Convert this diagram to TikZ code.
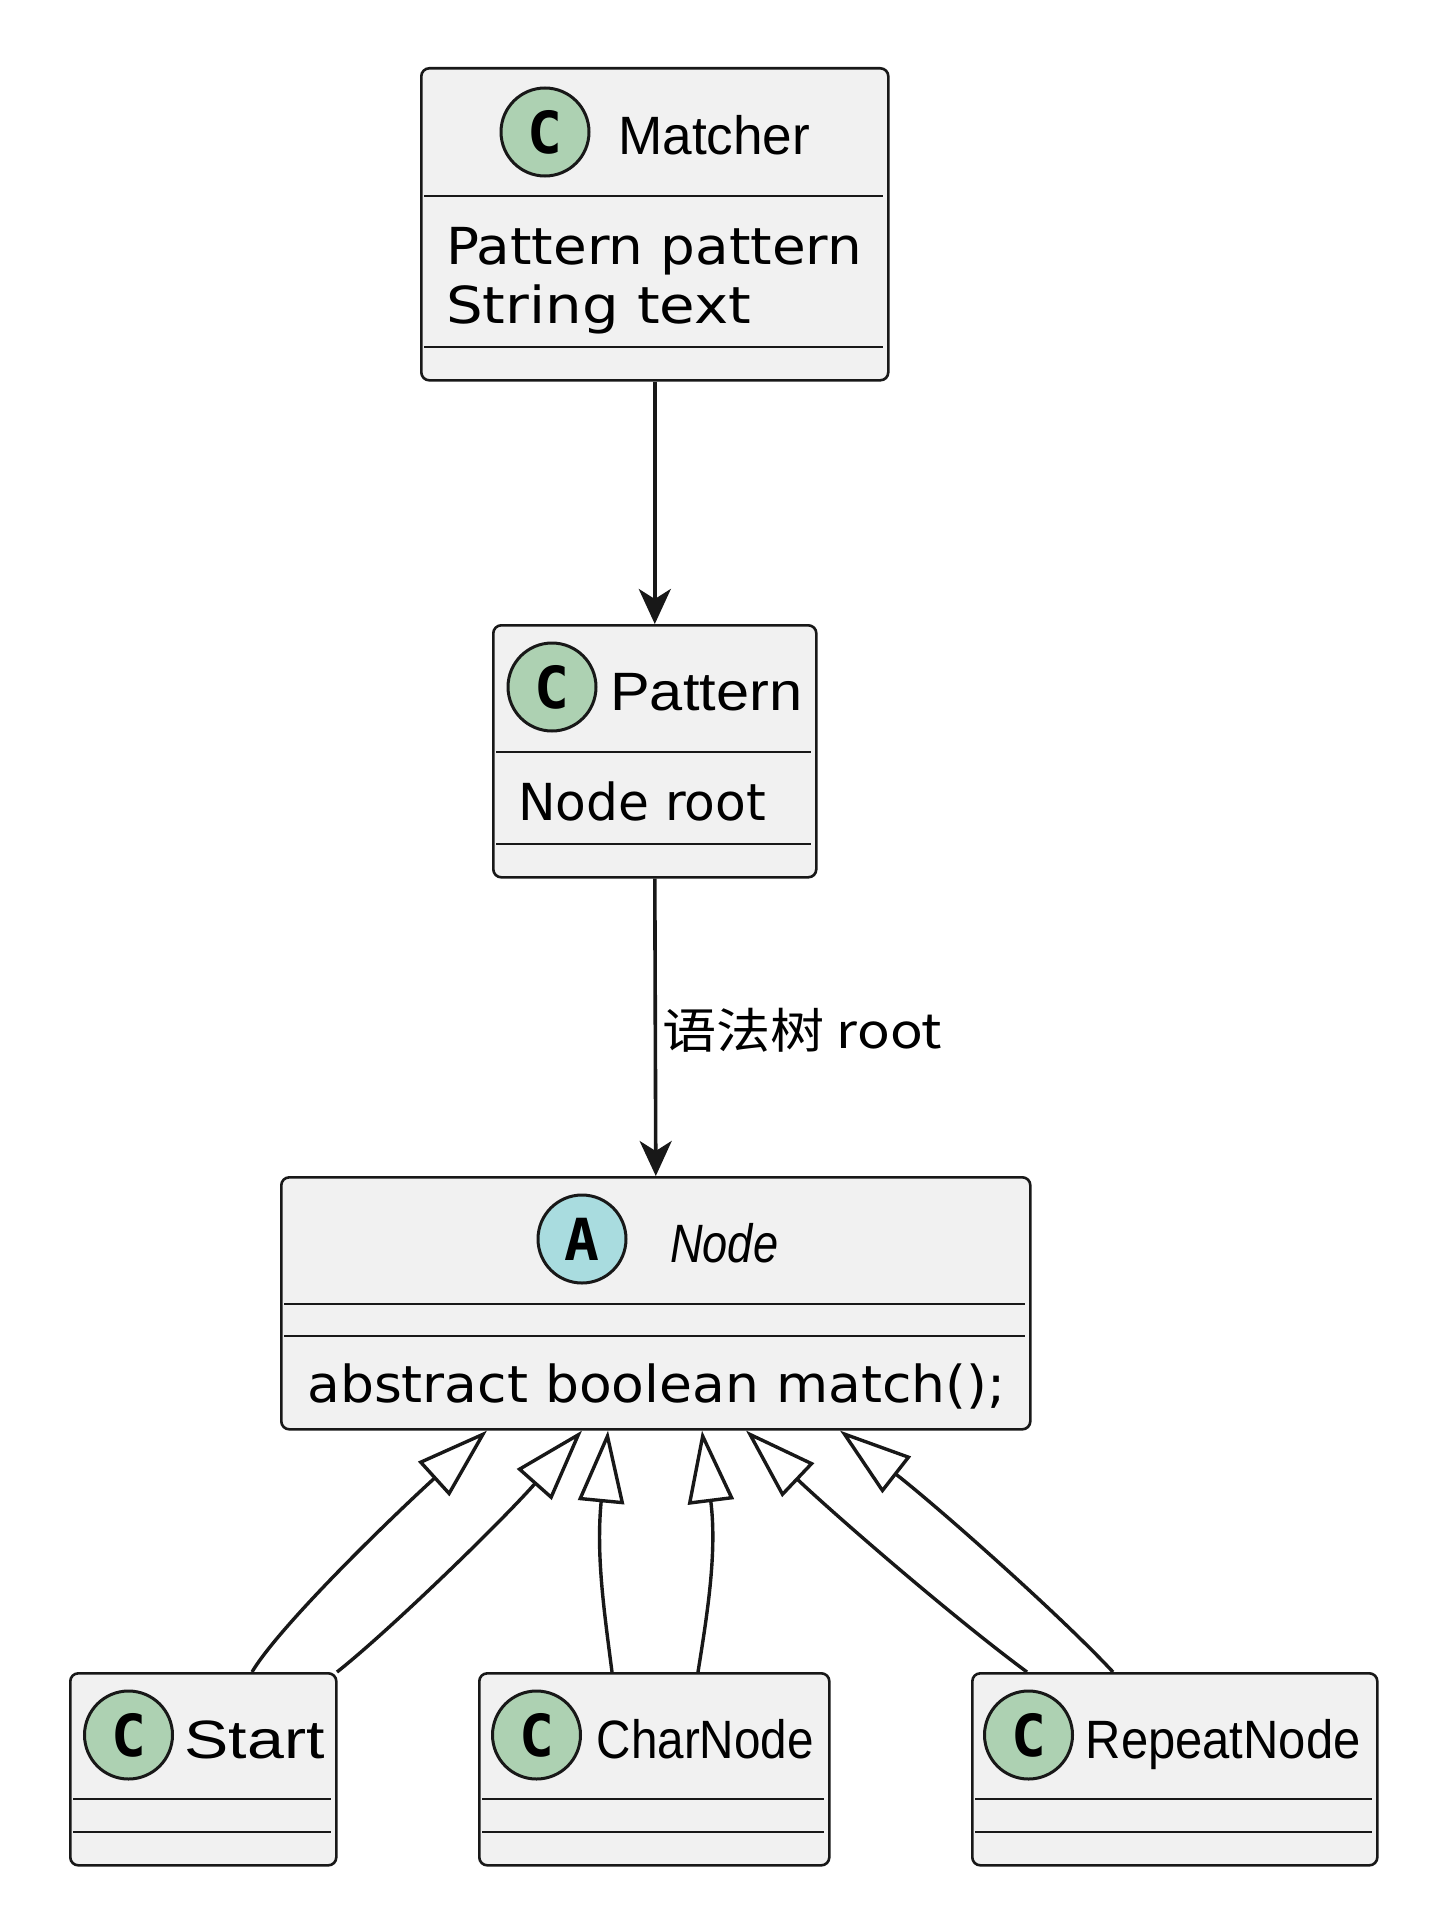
\documentclass[tikz,border=0pt]{standalone}
\usepackage{fontspec}
\usepackage{graphicx}
\setmainfont{Liberation Sans}
\newfontfamily\fieldfont{DejaVu Sans}
\newfontfamily\cjkfont{Noto Sans CJK SC}
\newfontfamily\spotfont{DejaVu Sans Mono}
\usetikzlibrary{arrows.meta}
\definecolor{boxfill}{HTML}{F1F1F1}
\definecolor{boxline}{HTML}{181818}
\definecolor{cgreen}{HTML}{ADD1B2}
\definecolor{acyan}{HTML}{A9DCDF}
\newcommand\fitw[2]{\resizebox{#1pt}{\height}{#2}}
\tikzset{
  classbox/.style={draw=boxline, fill=boxfill, line width=2.6pt, rounded corners=8pt, inner sep=0pt, anchor=north west},
  sepline/.style={draw=boxline, line width=2.6pt},
  spot/.style={circle, draw=boxline, line width=3pt, minimum size=88pt, inner sep=0pt, font=\spotfont\bfseries\fontsize{58}{60}\selectfont},
  nametext/.style={anchor=base west, inner sep=0pt, font=\fontsize{54}{60}\selectfont},
  fieldtext/.style={anchor=base west, inner sep=0pt, font=\fieldfont\fontsize{51}{60}\selectfont},
  assoc/.style={draw=boxline, line width=3.6pt, -{Stealth[length=35pt, width=32pt, inset=10pt]}},
  ext/.style={draw=boxline, line width=3.4pt, -{Triangle[open, length=72pt, width=46pt, fill=white]}}
}
\begin{document}
\begin{tikzpicture}[x=1pt, y=-1pt]
\useasboundingbox[fill=white] (0,0) rectangle (1444,1932);

% Matcher
\node[classbox, minimum width=467pt, minimum height=312pt] (matcher) at (420,67) {};
\draw[sepline] (424,196) -- (883,196);
\draw[sepline] (424,347) -- (883,347);
\node[spot, fill=cgreen] (mspot) at (545,132) {C};
\node[nametext] (mname) at (618,154) {\fitw{192}{Matcher}};
\node[fieldtext] (mf1) at (446,264) {\fitw{416}{Pattern pattern}};
\node[fieldtext] (mf2) at (446,323) {\fitw{305}{String text}};

% Pattern
\node[classbox, minimum width=323pt, minimum height=252pt] (pattern) at (492,624) {};
\draw[sepline] (496,752) -- (811,752);
\draw[sepline] (496,844) -- (811,844);
\node[spot, fill=cgreen] (pspot) at (552,687) {C};
\node[nametext] (pname) at (610,710) {\fitw{192}{Pattern}};
\node[fieldtext] (pf1) at (518,820) {\fitw{248}{Node root}};

% Node
\node[classbox, minimum width=749pt, minimum height=252pt] (node) at (280,1176) {};
\draw[sepline] (284,1304) -- (1025,1304);
\draw[sepline] (284,1336) -- (1025,1336);
\node[spot, fill=acyan] (nspot) at (582,1239) {A};
\node[nametext, font=\itshape\fontsize{54}{60}\selectfont] (nname) at (670,1262) {\fitw{108}{Node}};
\node[fieldtext] (nm1) at (307,1402) {\fitw{698}{abstract boolean match();}};

% Start
\node[classbox, minimum width=266pt, minimum height=192pt] (start) at (69,1672) {};
\draw[sepline] (73,1799) -- (331,1799);
\draw[sepline] (73,1832) -- (331,1832);
\node[spot, fill=cgreen] (sspot) at (128.5,1735) {C};
\node[nametext] (sname) at (184.5,1758) {\fitw{140}{Start}};

% CharNode
\node[classbox, minimum width=350pt, minimum height=192pt] (charnode) at (478,1672) {};
\draw[sepline] (482,1799) -- (824,1799);
\draw[sepline] (482,1832) -- (824,1832);
\node[spot, fill=cgreen] (cspot) at (536.5,1735) {C};
\node[nametext] (cname) at (596.5,1758) {\fitw{217}{CharNode}};

% RepeatNode
\node[classbox, minimum width=405pt, minimum height=192pt] (repeat) at (971,1672) {};
\draw[sepline] (975,1799) -- (1372,1799);
\draw[sepline] (975,1832) -- (1372,1832);
\node[spot, fill=cgreen] (rspot) at (1028.5,1735) {C};
\node[nametext] (rname) at (1085.5,1758) {\fitw{275}{RepeatNode}};

% associations
\draw[assoc] (matcher.south) -- (pattern.north);
\draw[assoc] (pattern.south) -- (node.north);
\node[anchor=base west, inner sep=0pt, font=\cjkfont\fontsize{48}{50}\selectfont] (lbl) at (662,1048) {\fitw{280}{语法树 root}};

% inheritance
\draw[ext] ([xshift=183pt]start.north west) .. controls (280,1625) and (395,1514) .. ([xshift=207pt]node.south west);
\draw[ext] ([xshift=268pt]start.north west) .. controls (390,1630) and (500,1523) .. ([xshift=302pt]node.south west);
\draw[ext] ([xshift=134pt]charnode.north west) .. controls (604,1610) and (596,1555) .. ([xshift=328pt]node.south west);
\draw[ext] ([xshift=220pt]charnode.north west) .. controls (708,1610) and (717,1551) .. ([xshift=422pt]node.south west);
\draw[ext] ([xshift=56pt]repeat.north west) .. controls (950,1615) and (834,1514) .. ([xshift=466pt]node.south west);
\draw[ext] ([xshift=142pt]repeat.north west) .. controls (1060,1615) and (938,1507) .. ([xshift=560pt]node.south west);
\end{tikzpicture}
\end{document}
